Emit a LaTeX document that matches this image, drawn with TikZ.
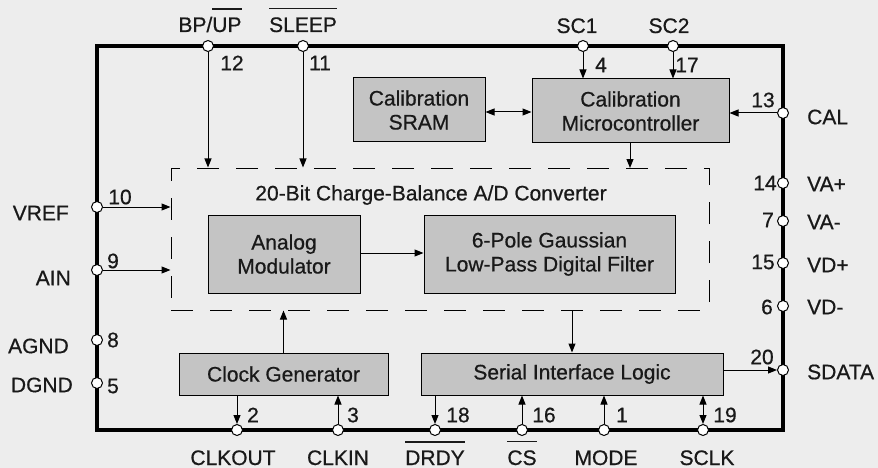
\documentclass[tikz,border=0pt]{standalone}
\usepackage{fontspec}
\setmainfont{Liberation Sans}[FakeBold=0.6]
\usetikzlibrary{arrows.meta}
\newcommand\ovl[1]{\leavevmode\vbox{\hrule height 1.2pt\kern 8pt\hbox{#1}}}
\begin{document}
\begin{tikzpicture}[x=1pt,y=-1pt,
  every node/.style={font=\fontsize{21}{24}\selectfont, inner sep=0pt, text=black!90},
  blk/.style={draw, line width=1pt, fill=black!23, align=center},
  pinc/.style={circle, draw, fill=white, line width=1pt, minimum size=11pt, inner sep=0pt},
  sig/.style={line width=1pt, -{Triangle[length=9pt,width=7pt]}},
  bisig/.style={line width=1pt, {Triangle[length=9pt,width=7pt]}-{Triangle[length=9pt,width=7pt]}},
  lbl/.style={anchor=base}
]
\fill[black!7] (0,0) rectangle (878,468);
\useasboundingbox (0,0) rectangle (878,468);
% outer package outline
\draw[line width=4pt, line join=miter] (97,46) rectangle (783,430);
% converter (dashed)
\node[draw, dashed, dash pattern=on 22pt off 17pt, line width=1pt, minimum width=538pt, minimum height=142pt] (adc) at (440,239) {};
\node (adct) at (431,195) {20-Bit Charge-Balance A/D Converter};
% blocks
\node[blk, minimum width=132pt, minimum height=64pt] (sram) at (419,110) {Calibration\\SRAM};
\node[blk, minimum width=197pt, minimum height=64pt] (mcu) at (630.5,111) {Calibration\\Microcontroller};
\node[blk, minimum width=152pt, minimum height=78pt] (mod) at (284,254) {Analog\\Modulator};
\node[blk, minimum width=251pt, minimum height=78pt] (filt) at (549.5,254) {6-Pole Gaussian\\Low-Pass Digital Filter};
\node[blk, minimum width=209pt, minimum height=42pt] (clk) at (283.5,374) {Clock Generator};
\node[blk, minimum width=302pt, minimum height=42pt] (sil) at (572,374) {Serial Interface Logic};
% pins
\node[pinc] (pbp) at (208,46) {};
\node[pinc] (psleep) at (303,46) {};
\node[pinc] (psc1) at (583,46) {};
\node[pinc] (psc2) at (673,46) {};
\node[pinc] (pcal) at (783,113) {};
\node[pinc] (pvap) at (783,183) {};
\node[pinc] (pvam) at (783,221) {};
\node[pinc] (pvdp) at (783,263) {};
\node[pinc] (pvdm) at (783,306) {};
\node[pinc] (psdata) at (783,370) {};
\node[pinc] (pvref) at (97,207) {};
\node[pinc] (pain) at (97,270) {};
\node[pinc] (pagnd) at (97,340) {};
\node[pinc] (pdgnd) at (97,383) {};
\node[pinc] (pclkout) at (237,430) {};
\node[pinc] (pclkin) at (338,430) {};
\node[pinc] (pdrdy) at (435,430) {};
\node[pinc] (pcs) at (522,430) {};
\node[pinc] (pmode) at (604,430) {};
\node[pinc] (psclk) at (703,430) {};
% connectors
\draw[sig] (pbp) -- (pbp |- adc.north);
\draw[sig] (psleep) -- (psleep |- adc.north);
\draw[sig] (psc1) -- (psc1 |- mcu.north);
\draw[sig] (psc2) -- (psc2 |- mcu.north);
\draw[sig] (pcal) -- (pcal -| mcu.east);
\draw[bisig] (sram.east |- 0,112) -- (mcu.west |- 0,112);
\draw[sig] (630,143) -- (630,168);
\draw[sig] (pvref) -- (pvref -| adc.west);
\draw[sig] (pain) -- (pain -| adc.west);
\draw[sig] (mod.east |- 0,253) -- (filt.west |- 0,253);
\draw[sig] (clk.north) -- (clk.north |- adc.south);
\draw[sig] (572,310) -- (sil.north);
\draw[sig] (sil.east |- psdata) -- (psdata);
\draw[sig] (pclkout |- clk.south) -- (pclkout);
\draw[sig] (pclkin) -- (pclkin |- clk.south);
\draw[sig] (pdrdy |- sil.south) -- (pdrdy);
\draw[sig] (pcs) -- (pcs |- sil.south);
\draw[sig] (pmode) -- (pmode |- sil.south);
\draw[bisig] (psclk |- sil.south) -- (psclk);
% pin names
\node[lbl] (tbp) at (210,32) {BP/\ovl{UP}};
\node[lbl] (tsleep) at (303,32) {\ovl{SLEEP}};
\node[lbl] (tsc1) at (577,33) {SC1};
\node[lbl] (tsc2) at (669,33) {SC2};
\node[anchor=west] (tcal) at (807,117) {CAL};
\node[anchor=west] (tvap) at (807,184) {VA+};
\node[anchor=west] (tvam) at (807,222) {VA-};
\node[anchor=west] (tvdp) at (807,265) {VD+};
\node[anchor=west] (tvdm) at (807,307) {VD-};
\node[anchor=west] (tsdata) at (807,372) {SDATA};
\node[anchor=east] (tvref) at (69,213) {VREF};
\node[anchor=east] (tain) at (71,278) {AIN};
\node[anchor=east] (tagnd) at (69,346) {AGND};
\node[anchor=east] (tdgnd) at (73,385) {DGND};
\node[lbl] (tclkout) at (233,465) {CLKOUT};
\node[lbl] (tclkin) at (338,465) {CLKIN};
\node[lbl] (tdrdy) at (435,465) {\ovl{DRDY}};
\node[lbl] (tcs) at (522,465) {\ovl{CS}};
\node[lbl] (tmode) at (606,465) {MODE};
\node[lbl] (tsclk) at (707,465) {SCLK};
% pin numbers
\node (n12) at (232,63) {12};
\node (n11) at (320,63) {11};
\node (n4) at (601,65) {4};
\node (n17) at (687,65) {17};
\node (n13) at (763,100) {13};
\node (n14) at (765,183) {14};
\node (n7) at (768,220) {7};
\node (n15) at (763,262) {15};
\node (n6) at (767,307) {6};
\node (n20) at (762,357) {20};
\node (n10) at (120,197) {10};
\node (n9) at (113,261) {9};
\node (n8) at (113,340) {8};
\node (n5) at (113,386) {5};
\node (n2) at (253,415) {2};
\node (n3) at (353,415) {3};
\node (n18) at (458,415) {18};
\node (n16) at (544,415) {16};
\node (n1) at (622,415) {1};
\node (n19) at (725,415) {19};
\end{tikzpicture}
\end{document}
